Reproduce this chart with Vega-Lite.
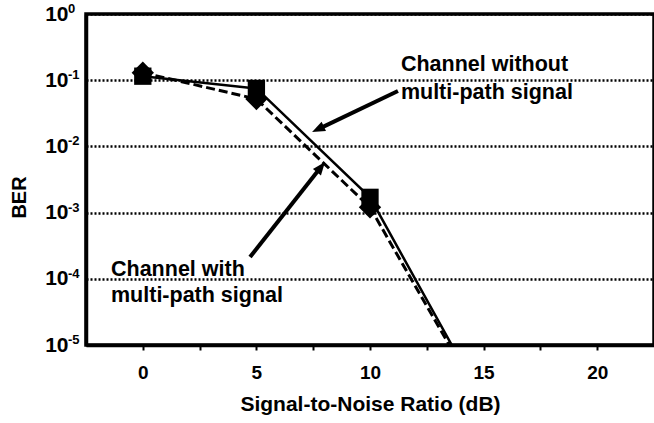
{
  "$schema": "https://vega.github.io/schema/vega-lite/v6.json",
  "autosize": {"type": "none"},
  "padding": {"left": 86, "top": 14, "right": 0, "bottom": 78},
  "width": 568,
  "height": 331,
  "background": "white",
  "config": {
    "view": {"stroke": "black", "strokeWidth": 3.5},
    "font": "Liberation Sans"
  },
  "datasets": {
    "series": [
      {"snr": 0, "ber": 0.13, "channel": "with"},
      {"snr": 5, "ber": 0.052, "channel": "with"},
      {"snr": 10, "ber": 0.0012, "channel": "with"},
      {"snr": 15, "ber": 0.00000125, "channel": "with"},
      {"snr": 0, "ber": 0.115, "channel": "without"},
      {"snr": 5, "ber": 0.075, "channel": "without"},
      {"snr": 10, "ber": 0.0017, "channel": "without"},
      {"snr": 15, "ber": 0.00000135, "channel": "without"}
    ],
    "ticks": [
      {"snr": -2.5, "ber": 1, "exp": "0"},
      {"snr": -2.5, "ber": 0.1, "exp": "-1"},
      {"snr": -2.5, "ber": 0.01, "exp": "-2"},
      {"snr": -2.5, "ber": 0.001, "exp": "-3"},
      {"snr": -2.5, "ber": 0.0001, "exp": "-4"},
      {"snr": -2.5, "ber": 0.00001, "exp": "-5"}
    ],
    "notes": [
      {"snr": 11.36, "ber": 0.1377, "label": "Channel without"},
      {"snr": 11.36, "ber": 0.052, "label": "multi-path signal"},
      {"snr": -1.4, "ber": 0.00011, "label": "Channel with"},
      {"snr": -1.4, "ber": 0.0000446, "label": "multi-path signal"}
    ],
    "shafts": [
      {"id": "without", "snr": 11.23, "ber": 0.0687, "snr2": 7.77, "ber2": 0.01857},
      {"id": "with", "snr": 4.72, "ber": 0.000213, "snr2": 7.8, "ber2": 0.004667}
    ],
    "heads": [
      {"id": "without", "snr": 7.45, "ber": 0.01651},
      {"id": "with", "snr": 8.02, "ber": 0.00581}
    ]
  },
  "encoding": {
    "x": {
      "field": "snr",
      "type": "quantitative",
      "scale": {"domain": [-2.5, 22.5], "nice": false, "zero": false},
      "axis": {
        "title": "Signal-to-Noise Ratio (dB)",
        "values": [0, 2.5, 5, 7.5, 10, 12.5, 15, 17.5, 20],
        "labelExpr": "datum.value % 5 === 0 ? format(datum.value, 'd') : ''",
        "grid": false,
        "domainColor": "black",
        "domainWidth": 3.5,
        "tickColor": "black",
        "tickWidth": 2,
        "tickSize": 5,
        "labelFont": "Liberation Sans",
        "labelFontWeight": "bold",
        "labelFontSize": 19,
        "labelColor": "black",
        "labelPadding": 13,
        "labelOverlap": false,
        "labelFlush": false,
        "titleFont": "Liberation Sans",
        "titleFontSize": 21,
        "titleFontWeight": "bold",
        "titleColor": "black",
        "titlePadding": 11
      }
    },
    "y": {
      "field": "ber",
      "type": "quantitative",
      "scale": {"type": "log", "domain": [0.00001, 1], "nice": false},
      "axis": {
        "title": "BER",
        "values": [1, 0.1, 0.01, 0.001, 0.0001, 0.00001],
        "labelExpr": "'10'",
        "ticks": false,
        "grid": true,
        "gridColor": "black",
        "gridDash": [2, 2],
        "gridWidth": 2.5,
        "gridOpacity": 1,
        "domainColor": "black",
        "domainWidth": 3.5,
        "labelFont": "Liberation Sans",
        "labelFontSize": 21,
        "labelFontWeight": "bold",
        "labelColor": "black",
        "labelPadding": 18,
        "labelBaseline": "middle",
        "labelOverlap": false,
        "labelFlush": false,
        "titleFont": "Liberation Sans",
        "titleFontSize": 20,
        "titleFontWeight": "bold",
        "titleColor": "black",
        "titleAngle": -90,
        "titleAlign": "center",
        "titleBaseline": "alphabetic",
        "titleX": -61,
        "titleY": 183
      }
    }
  },
  "layer": [
    {
      "data": {"name": "series"},
      "transform": [{"filter": "datum.channel === 'with'"}],
      "mark": {"type": "line", "color": "black", "strokeWidth": 3, "strokeDash": [9, 4], "clip": true}
    },
    {
      "data": {"name": "series"},
      "transform": [{"filter": "datum.channel === 'without'"}],
      "mark": {"type": "line", "color": "black", "strokeWidth": 2.5, "clip": true}
    },
    {
      "data": {"name": "series"},
      "transform": [{"filter": "datum.channel === 'with'"}],
      "mark": {"type": "point", "shape": "diamond", "filled": true, "color": "black", "opacity": 1, "size": 500, "clip": true}
    },
    {
      "data": {"name": "series"},
      "transform": [{"filter": "datum.channel === 'without'"}],
      "mark": {"type": "point", "shape": "square", "filled": true, "color": "black", "opacity": 1, "size": 300, "clip": true}
    },
    {
      "data": {"name": "shafts"},
      "mark": {"type": "rule", "color": "black", "strokeWidth": 4},
      "encoding": {
        "x2": {"field": "snr2"},
        "y2": {"field": "ber2"}
      }
    },
    {
      "data": {"name": "heads"},
      "transform": [{"filter": "datum.id === 'without'"}],
      "mark": {"type": "point", "shape": "M0,0L0.55,1.4L-0.55,1.4Z", "filled": true, "color": "black", "opacity": 1, "size": 346, "angle": 244.5}
    },
    {
      "data": {"name": "heads"},
      "transform": [{"filter": "datum.id === 'with'"}],
      "mark": {"type": "point", "shape": "M0,0L0.55,1.4L-0.55,1.4Z", "filled": true, "color": "black", "opacity": 1, "size": 346, "angle": 38.3}
    },
    {
      "data": {"name": "notes"},
      "mark": {"type": "text", "align": "left", "baseline": "alphabetic", "font": "Liberation Sans", "fontSize": 21.5, "fontWeight": "bold", "color": "black"},
      "encoding": {"text": {"field": "label"}}
    },
    {
      "data": {"name": "ticks"},
      "mark": {"type": "text", "align": "left", "baseline": "top", "dx": -18, "dy": -11, "font": "Liberation Sans", "fontSize": 13, "fontWeight": "bold", "color": "black"},
      "encoding": {
        "text": {"field": "exp"}
      }
    }
  ]
}
